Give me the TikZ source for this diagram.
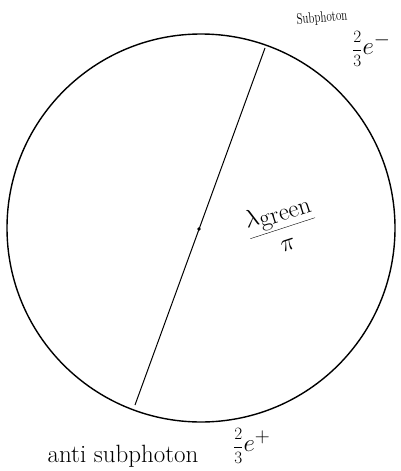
\documentclass[tikz,border=0pt]{standalone}
\begin{document}
\begin{tikzpicture}[x=1pt,y=-1pt,
  lbl/.style={inner sep=0pt,font=\fontsize{#1}{#1}\selectfont},
  lbl/.default=12]
\useasboundingbox (0,0) rectangle (401,471);
\node[circle,draw,line width=1.4pt,minimum size=388pt,inner sep=0pt] (c) at (201,228) {};
\coordinate (top) at (265,48);
\coordinate (bot) at (135,405);
\draw[line width=1pt] (top) -- (bot);
\fill (199,229) circle (1.8pt);
\node[lbl=11,rotate=5,yscale=1.4] (sub) at (322,18) {Subphoton};
\node[lbl=19,anchor=west] (em) at (352,49) {$\displaystyle\frac{2}{3}$\fontsize{30}{30}\selectfont$e^{-}$};
\node[lbl=24,rotate=18] (lam) at (282,226) {$\displaystyle\frac{\lambda_{\textstyle\mathrm{green}}}{\pi}$};
\node[lbl=25] (anti) at (123,456) {anti subphoton};
\node[lbl=19,anchor=west] (ep) at (233,446) {$\displaystyle\frac{2}{3}$\fontsize{30}{30}\selectfont$e^{+}$};
\end{tikzpicture}
\end{document}
